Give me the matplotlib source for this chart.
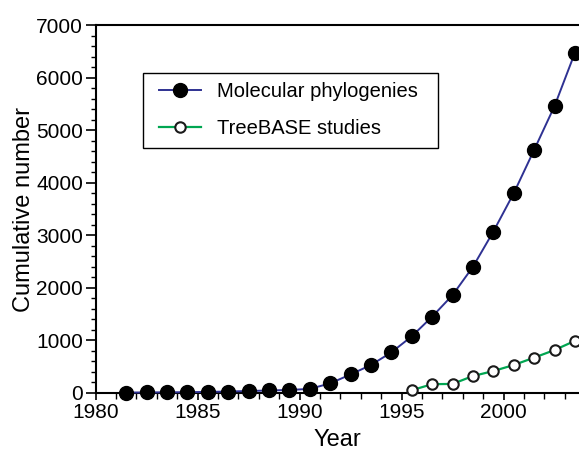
import matplotlib
matplotlib.use("Agg")
import matplotlib.pyplot as plt
from matplotlib.patches import Rectangle
from matplotlib.ticker import MultipleLocator
import numpy as np

plt.rcParams['font.family'] = ['Liberation Sans', 'DejaVu Sans']

# cumulative counts per year
years = np.arange(1981, 2004)
molecular = [5, 8, 10, 12, 18, 25, 35, 45, 55, 75, 180, 350, 530, 770,
             1075, 1450, 1860, 2400, 3070, 3800, 4625, 5460, 6475]
tb_years = np.arange(1995, 2004)
treebase = [50, 165, 170, 320, 415, 530, 670, 815, 990]

fig = plt.figure(figsize=(5.79, 4.5), dpi=100)
ax = fig.add_axes([0.165, 0.127, 0.835, 0.817])

# points sit at mid-year
ax.plot(years + 0.5, molecular, color='#2e3192', lw=1.4, marker='o',
        ms=10, mfc='black', mec='black', clip_on=False, zorder=3,
        label='Molecular phylogenies')
ax.plot(tb_years + 0.5, treebase, color='#00a651', lw=1.6, marker='o',
        ms=7.5, mfc='white', mec='#1a1a1a', mew=1.5, clip_on=False, zorder=3,
        label='TreeBASE studies')

ax.set_xlim(1980, 2003.7)
ax.set_ylim(0, 7000)
ax.xaxis.set_major_locator(MultipleLocator(5))
ax.xaxis.set_minor_locator(MultipleLocator(1))
ax.yaxis.set_major_locator(MultipleLocator(1000))
ax.yaxis.set_minor_locator(MultipleLocator(200))
ax.tick_params(axis='x', which='major', length=5, width=1.2, labelsize=15, pad=2)
ax.tick_params(axis='x', which='minor', length=4, width=1.0)
ax.tick_params(axis='y', which='major', length=7, width=1.2, labelsize=15, pad=2)
ax.tick_params(axis='y', which='minor', length=3.5, width=1.0)
ax.spines['right'].set_visible(False)
for s in ['left', 'bottom', 'top']:
    ax.spines[s].set_linewidth(1.5)

ax.set_xlabel('Year', fontsize=17, labelpad=5)
ax.set_ylabel('Cumulative number', fontsize=17, labelpad=1)

# legend without its own frame; box drawn separately (wider right margin)
ax.legend(loc='upper left', bbox_to_anchor=(0.1125, 0.870), borderaxespad=0,
          fontsize=14.5, frameon=False, handlelength=2.1, handletextpad=0.8,
          borderpad=0.45, labelspacing=0.9)
ax.add_patch(Rectangle((0.098, 0.6655), 0.61, 0.204, transform=ax.transAxes,
                       fill=False, edgecolor='black', lw=1.0, zorder=4))

fig.savefig('out.png', dpi=100)
